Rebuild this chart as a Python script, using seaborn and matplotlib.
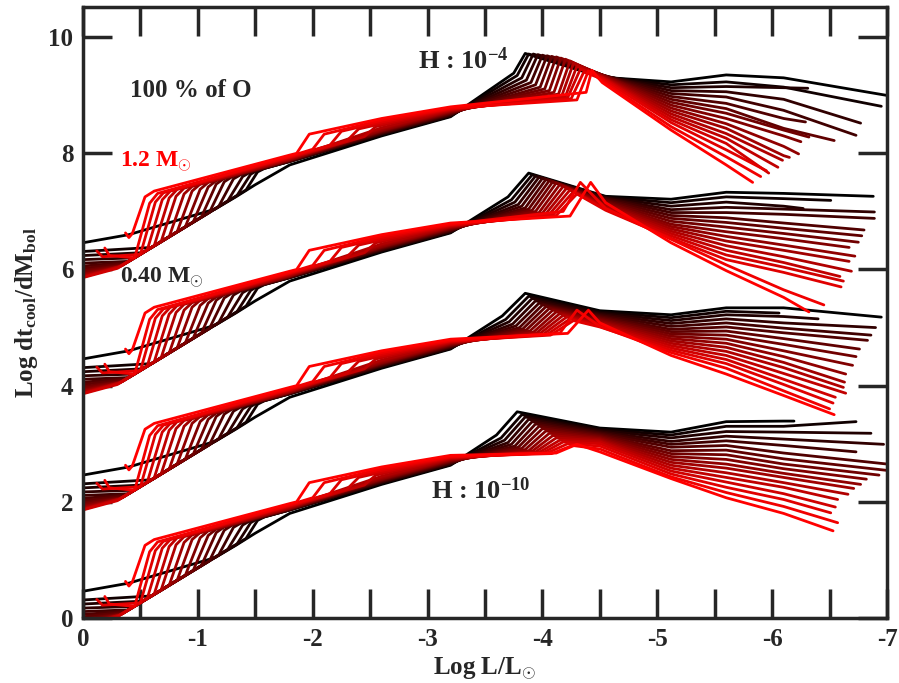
import numpy as np
import pandas as pd
import matplotlib
matplotlib.use("Agg")
import matplotlib.pyplot as plt
import seaborn as sns
from matplotlib.ticker import MultipleLocator

nan = np.nan

# white dwarf masses (Msun), black -> red
masses = [0.40, 0.45, 0.50, 0.55, 0.60, 0.65, 0.70, 0.75, 0.80, 0.85,
          0.90, 0.95, 1.00, 1.05, 1.10, 1.15, 1.20]

# vertical offset of each hydrogen-content family (curves start at x = 0)
families = ["H4", "H6", "H8", "H10"]
offsets = [6.0, 4.0, 2.0, 0.0]

# ---- bright part, same shape for every family (values relative to offset) ----
x_start = [0, 0, 0, 0, 0, 0, 0, 0, 0, 0, 0, 0, 0, 0, -0.12, -0.19, -0.37]
y_start = [0.46, 0.31, 0.24, 0.17, 0.11, 0.06, 0.02, -0.02, -0.05, -0.08,
           -0.10, -0.12, -0.13, -0.14, 0.32, 0.37, 0.63]
x_join = [-0.40, -0.60, -0.52, -0.45, -0.40, -0.38, -0.36, -0.35, -0.34, -0.33,
          -0.32, -0.32, -0.31, -0.30, -0.17, -0.23, -0.40]
y_join = [0.60, 0.38, 0.29, 0.20, 0.14, 0.12, 0.10, 0.08, 0.07, 0.06,
          0.05, 0.05, 0.04, 0.02, 0.22, 0.24, 0.55]
x_knee = [-1.15, -1.42, -1.34, -1.26, -1.18, -1.10, -1.03, -0.96, -0.89, -0.82,
          -0.75, -0.68, -0.62, -0.56, -0.50, -0.45, -0.43]
y_knee = [1.04, 1.37, 1.27, 1.18, 1.08, 0.98, 0.90, 0.82, 0.73, 0.65,
          0.56, 0.48, 0.41, 0.34, 0.26, 0.20, 0.62]
x_rise = [-1.33, -1.52, -1.46, -1.39, -1.31, -1.23, -1.16, -1.09, -1.02, -0.95,
          -0.88, -0.81, -0.75, -0.69, -0.63, -0.58, -0.54]
y_rise = [1.25, 1.68, 1.64, 1.60, 1.56, 1.51, 1.47, 1.42, 1.38, 1.35,
          1.30, 1.26, 1.23, 1.20, 1.16, 1.14, 1.25]
x_shoulder = [-1.50, -1.58, -1.52, -1.46, -1.38, -1.30, -1.23, -1.16, -1.09, -1.02,
              -0.95, -0.88, -0.82, -0.76, -0.70, -0.65, -0.62]
y_shoulder = [1.46, 1.74, 1.71, 1.68, 1.64, 1.60, 1.57, 1.53, 1.50, 1.47,
              1.43, 1.40, 1.38, 1.35, 1.32, 1.31, 1.35]
y_at_18 = [1.80, 1.86, 1.86, 1.86, 1.87, 1.87, 1.88, 1.88, 1.89, 1.89,
           1.90, 1.91, 1.92, 1.93, 1.94, 1.95, 1.97]
bump_x0 = [nan, nan, nan, nan, nan, nan, nan, nan, nan, nan, nan, nan,
           -2.45, -2.30, -2.15, -2.00, -1.86]
bump_y0 = [nan, nan, nan, nan, nan, nan, nan, nan, nan, nan, nan, nan,
           2.29, 2.22, 2.14, 2.07, 2.00]
bump_x1 = [nan, nan, nan, nan, nan, nan, nan, nan, nan, nan, nan, nan,
           -2.55, -2.40, -2.25, -2.10, -1.97]
bump_y1 = [nan, nan, nan, nan, nan, nan, nan, nan, nan, nan, nan, nan,
           2.46, 2.42, 2.38, 2.33, 2.33]
y_at_26 = [2.30, 2.32, 2.33, 2.34, 2.35, 2.36, 2.37, 2.38, 2.39, 2.40,
           2.42, 2.44, 2.48, 2.51, 2.54, 2.57, 2.60]
y_at_32 = [2.63, 2.64, 2.65, 2.66, 2.67, 2.68, 2.69, 2.70, 2.71, 2.72,
           2.73, 2.74, 2.75, 2.76, 2.77, 2.78, 2.80]

# ---- peak and faint tail, per family (relative to offset) ----
x_pre = {
    "H4": [-3.75, -3.78, -3.82, -3.86, -3.90, -3.94, -3.98, -4.02, -4.06, -4.10,
           -4.14, -4.17, -4.20, -4.22, -4.25, -4.30, -4.38],
    "H6": [-3.70, -3.73, -3.76, -3.79, -3.82, -3.85, -3.88, -3.91, -3.94, -3.97,
           -4.00, -4.03, -4.06, -4.09, -4.12, -4.18, -4.24],
    "H8": [-3.65, -3.68, -3.71, -3.74, -3.77, -3.80, -3.83, -3.86, -3.89, -3.92,
           -3.95, -3.98, -4.01, -4.04, -4.07, -4.15, -4.22],
    "H10": [-3.60, -3.64, -3.67, -3.70, -3.73, -3.76, -3.79, -3.82, -3.85, -3.88,
            -3.91, -3.94, -3.97, -4.00, -4.04, -4.08, -4.12],
}
y_pre = {
    "H4": [3.38, 3.34, 3.30, 3.26, 3.22, 3.18, 3.14, 3.11, 3.08, 3.05,
           3.02, 3.00, 2.98, 2.96, 2.94, 2.92, 3.05],
    "H6": [3.25, 3.20, 3.16, 3.12, 3.09, 3.06, 3.04, 3.02, 3.00, 2.98,
           2.97, 2.96, 2.95, 2.94, 2.93, 3.00, 2.92],
    "H8": [3.20, 3.14, 3.10, 3.06, 3.03, 3.00, 2.98, 2.96, 2.94, 2.92,
           2.91, 2.90, 2.89, 2.88, 2.87, 2.90, 2.90],
    "H10": [3.15, 3.10, 3.06, 3.02, 2.99, 2.96, 2.94, 2.92, 2.90, 2.88,
            2.87, 2.86, 2.85, 2.84, 2.84, 2.83, 2.84],
}
x_peak = {
    "H4": [-3.85, -3.88, -3.92, -3.96, -4.00, -4.04, -4.08, -4.12, -4.16, -4.20,
           -4.24, -4.27, -4.30, -4.33, -4.36, -4.40, -4.43],
    "H6": [-3.88, -3.91, -3.94, -3.97, -4.00, -4.03, -4.06, -4.09, -4.12, -4.15,
           -4.18, -4.21, -4.24, -4.27, -4.30, -4.33, -4.42],
    "H8": [-3.85, -3.88, -3.91, -3.94, -3.97, -4.00, -4.03, -4.06, -4.09, -4.12,
           -4.15, -4.18, -4.21, -4.24, -4.27, -4.30, -4.40],
    "H10": [-3.78, -3.82, -3.85, -3.88, -3.91, -3.94, -3.97, -4.00, -4.03, -4.06,
            -4.09, -4.12, -4.15, -4.18, -4.22, -4.26, -4.30],
}
y_peak = {
    "H4": [3.72, 3.71, 3.71, 3.70, 3.69, 3.68, 3.67, 3.66, 3.64, 3.62,
           3.59, 3.55, 3.50, 3.45, 3.40, 3.42, 3.43],
    "H6": [3.66, 3.63, 3.61, 3.59, 3.57, 3.55, 3.53, 3.51, 3.49, 3.46,
           3.43, 3.40, 3.37, 3.34, 3.30, 3.50, 3.50],
    "H8": [3.59, 3.54, 3.50, 3.46, 3.42, 3.39, 3.36, 3.33, 3.30, 3.27,
           3.24, 3.21, 3.18, 3.15, 3.12, 3.30, 3.30],
    "H10": [3.55, 3.50, 3.46, 3.42, 3.38, 3.34, 3.30, 3.26, 3.22, 3.18,
            3.14, 3.10, 3.06, 3.03, 3.00, 2.97, 2.99],
}
x_cross = {"H4": -4.52, "H6": -4.55, "H8": -4.50, "H10": -4.50}
y_cross = {
    "H4": [3.31, 3.32, 3.33, 3.34, 3.35, 3.35, 3.35, 3.35, 3.35, 3.34,
           3.33, 3.32, 3.31, 3.30, 3.28, 3.25, 3.22],
    "H6": [3.26, 3.25, 3.24, 3.23, 3.22, 3.20, 3.18, 3.16, 3.14, 3.12,
           3.10, 3.08, 3.06, 3.04, 3.02, 3.05, 3.15],
    "H8": [3.29, 3.27, 3.25, 3.23, 3.21, 3.19, 3.17, 3.15, 3.13, 3.11,
           3.09, 3.07, 3.05, 3.03, 3.01, 3.02, 3.08],
    "H10": [3.27, 3.25, 3.23, 3.21, 3.19, 3.17, 3.15, 3.13, 3.11, 3.09,
            3.07, 3.05, 3.03, 3.00, 2.96, 2.91, 2.86],
}
y_at_512 = {
    "H4": [3.23, 3.18, 3.13, 3.08, 3.03, 2.98, 2.93, 2.88, 2.83, 2.78,
           2.73, 2.68, 2.63, 2.58, 2.53, 2.46, 2.40],
    "H6": [3.21, 3.15, 3.09, 3.03, 2.98, 2.93, 2.88, 2.83, 2.78, 2.74,
           2.70, 2.66, 2.62, 2.58, 2.54, 2.52, 2.46],
    "H8": [3.22, 3.17, 3.12, 3.07, 3.02, 2.97, 2.93, 2.89, 2.85, 2.81,
           2.77, 2.73, 2.69, 2.65, 2.61, 2.57, 2.52],
    "H10": [3.20, 3.15, 3.10, 3.04, 2.99, 2.94, 2.88, 2.83, 2.78, 2.73,
            2.68, 2.63, 2.58, 2.53, 2.48, 2.43, 2.40],
}
y_at_56 = {
    "H4": [3.35, 3.23, 3.15, 3.06, 2.97, 2.86, 2.77, 2.69, 2.60, 2.51,
           2.43, 2.34, 2.26, 2.17, 2.06, 1.94, 1.80],
    "H6": [3.33, 3.25, 3.16, 3.07, 2.98, 2.89, 2.81, 2.73, 2.65, 2.57,
           2.49, 2.41, 2.33, 2.25, 2.17, 2.08, 1.98],
    "H8": [3.34, 3.28, 3.22, 3.15, 3.08, 3.01, 2.94, 2.87, 2.80, 2.73,
           2.66, 2.59, 2.52, 2.45, 2.38, 2.30, 2.20],
    "H10": [3.38, 3.30, 3.21, 3.13, 3.05, 2.97, 2.89, 2.81, 2.73, 2.65,
            2.58, 2.50, 2.42, 2.34, 2.25, 2.16, 2.07],
}
y_at_61 = {
    "H4": [3.30, 3.14, 3.13, 2.93, 2.74, 2.60, 2.43, 2.40, 2.30, 2.12,
           1.96, nan, nan, nan, nan, nan, nan],
    "H6": [3.31, 3.22, 3.09, 3.04, 2.95, 2.80, 2.71, 2.62, 2.53, 2.42,
           2.33, 2.22, 2.12, 2.04, 1.95, 1.65, 1.52],
    "H8": [3.34, nan, 3.19, 3.08, 2.99, 2.91, 2.81, 2.71, 2.60, 2.50,
           2.40, 2.31, 2.21, 2.11, 2.02, 1.91, 1.83],
    "H10": [3.39, 3.30, 3.20, 3.08, 2.97, 2.84, 2.74, 2.65, 2.57, 2.49,
            2.42, 2.33, 2.25, 2.14, 2.04, 1.92, 1.80],
}
x_end = {
    "H4": [-7.05, -6.95, -6.31, -6.77, -6.73, -6.29, -6.54, -6.32, -6.25, -6.23,
           -6.15, -6.09, -6.05, -5.97, -5.95, -5.90, -5.83],
    "H6": [-6.88, -6.51, -6.27, -6.89, -6.89, -6.80, -6.78, -6.75, -6.67, -6.72,
           -6.67, -6.69, -6.59, -6.62, -6.60, -6.45, -6.32],
    "H8": [-6.95, -6.06, -6.40, -6.90, -6.86, -6.83, -6.76, -6.73, -6.70, -6.64,
           -6.63, -6.62, -6.64, -6.55, -6.53, -6.50, -6.54],
    "H10": [-6.19, -6.73, -6.86, -6.97, -6.73, -7.05, -7.05, -6.93, -6.82, -6.77,
            -6.71, -6.66, -6.57, -6.55, -6.51, -6.57, -6.53],
}
y_end = {
    "H4": [2.98, 2.81, 3.12, 2.52, 2.31, 2.54, 2.22, 2.28, 2.20, 1.99,
           1.93, 1.88, 1.76, 1.66, 1.70, 1.60, 1.50],
    "H6": [3.26, 3.19, 3.05, 2.99, 2.88, 2.68, 2.58, 2.47, 2.38, 2.23,
           2.14, 1.97, 1.88, 1.80, 1.70, 1.39, 1.27],
    "H8": [3.18, 3.25, 3.15, 3.00, 2.87, 2.78, 2.63, 2.50, 2.35, 2.20,
           2.06, 1.97, 1.87, 1.80, 1.70, 1.60, 1.50],
    "H10": [3.39, 3.38, 3.18, 2.99, 2.86, 2.64, 2.53, 2.46, 2.39, 2.30,
            2.23, 2.13, 2.04, 1.91, 1.81, 1.64, 1.50],
}

# ---- long table: one row per knot ----
rows = []
for fam, off in zip(families, offsets):
    for i, m in enumerate(masses):
        pts = [(x_start[i], y_start[i]), (x_join[i], y_join[i]),
               (x_knee[i], y_knee[i]), (x_rise[i], y_rise[i]),
               (x_shoulder[i], y_shoulder[i]), (-1.8, y_at_18[i])]
        if not np.isnan(bump_x0[i]):
            pts += [(bump_x0[i], bump_y0[i]), (bump_x1[i], bump_y1[i])]
        pts += [(-2.6, y_at_26[i]), (-3.2, y_at_32[i]),
                (x_pre[fam][i], y_pre[fam][i]), (x_peak[fam][i], y_peak[fam][i]),
                (x_cross[fam], y_cross[fam][i]), (-5.12, y_at_512[fam][i]),
                (-5.6, y_at_56[fam][i])]
        if not np.isnan(y_at_61[fam][i]) and x_end[fam][i] < -6.1:
            pts.append((-6.1, y_at_61[fam][i]))
        pts.append((x_end[fam][i], y_end[fam][i]))
        for k, (x, y) in enumerate(pts):
            rows.append({"logL": x, "dtdm": y + off, "mass": m,
                         "curve": f"{fam}_{m:.2f}", "order": k})
df = pd.DataFrame(rows)

sns.set_style("white")
plt.rcParams["font.family"] = ["Liberation Serif", "DejaVu Serif"]
plt.rcParams["font.weight"] = "bold"
plt.rcParams["mathtext.fontset"] = "custom"
plt.rcParams["mathtext.rm"] = "Liberation Serif:bold"
plt.rcParams["mathtext.bf"] = "Liberation Serif:bold"
plt.rcParams["mathtext.it"] = "Liberation Serif:bold:italic"
plt.rcParams["mathtext.default"] = "rm"
plt.rcParams["axes.unicode_minus"] = False

fig, ax = plt.subplots(figsize=(8.99, 6.83), dpi=100)
fig.subplots_adjust(left=0.0923, right=0.9867, bottom=0.0952, top=0.9898)

pal = sns.blend_palette(["#000000", "#ff0000"], n_colors=len(masses))
sns.lineplot(data=df, x="logL", y="dtdm", hue="mass", units="curve",
             estimator=None, sort=False, palette=pal, legend=False,
             linewidth=2.0, ax=ax)

ax.set_xlim(0, -7)
ax.set_ylim(0, 10.52)
ax.xaxis.set_major_locator(MultipleLocator(1))
ax.xaxis.set_minor_locator(MultipleLocator(0.5))
ax.yaxis.set_major_locator(MultipleLocator(2))
ax.tick_params(which="both", direction="in", length=21, width=2.5,
               top=True, right=True, bottom=True, left=True)
ax.tick_params(axis="both", labelsize=18, pad=7)
for lab in ax.get_xticklabels() + ax.get_yticklabels():
    lab.set_fontweight("bold")
for sp in ax.spines.values():
    sp.set_linewidth(2.5)

ax.set_xlabel(r"Log L/L$_{\odot}$", fontsize=18, fontweight="bold", labelpad=3)
ax.set_ylabel(r"Log dt$_{\rm cool}$/dM$_{\rm bol}$", fontsize=18,
              fontweight="bold", labelpad=6)

ax.text(-0.41, 9.09, "100 % of O", fontsize=18, fontweight="bold", va="center")
ax.text(-0.32, 7.85, r"1.2 M$_{\odot}$", fontsize=17, fontweight="bold",
        color="red", va="center")
ax.text(-0.32, 5.85, r"0.40 M$_{\odot}$", fontsize=17, fontweight="bold",
        va="center")
ax.text(-2.92, 9.6, r"H : 10$^{-4}$", fontsize=19, fontweight="bold", va="center")
ax.text(-3.03, 2.2, r"H : 10$^{-10}$", fontsize=19, fontweight="bold", va="center")

fig.savefig("out.png", dpi=100)
